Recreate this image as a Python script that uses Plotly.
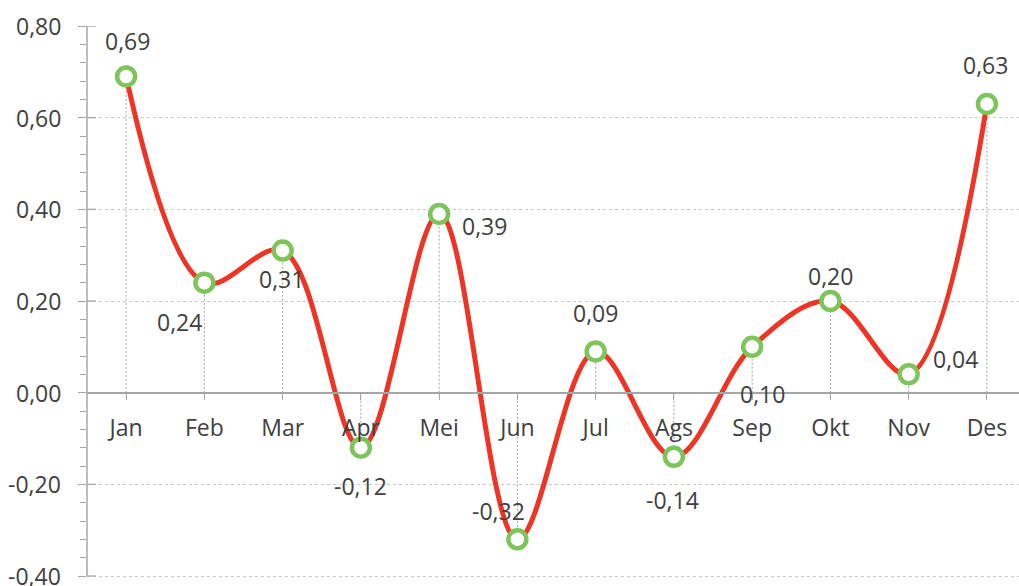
import plotly.graph_objects as go

months = ["Jan", "Feb", "Mar", "Apr", "Mei", "Jun", "Jul", "Ags", "Sep", "Okt", "Nov", "Des"]
values = [0.69, 0.24, 0.31, -0.12, 0.39, -0.32, 0.09, -0.14, 0.10, 0.20, 0.04, 0.63]
y_ticks = [-0.40, -0.20, 0.00, 0.20, 0.40, 0.60, 0.80]
y_tick_text = ["-0,40", "-0,20", "0,00", "0,20", "0,40", "0,60", "0,80"]

# label offsets in pixels (xshift, yshift)
label_shift = [(1, 35), (-25, -39), (-1, -28), (0, -38), (45, -12), (-19, 28),
               (0, 38), (-1, -43), (10, -47), (0, 25), (47, 15), (-1, 39)]

FONT = "Open Sans"
TXT = "#404040"
AX = "#A6A6A6"
FS = 23
xpos = list(range(len(months)))

TOP, BOT = 26, 0
PX_PER_UNIT = 550 / 1.2
y_lo = 0.8 - (586 - TOP - BOT) / PX_PER_UNIT

fig = go.Figure()

# drop lines
dx, dy = [], []
for i, v in zip(xpos, values):
    dx += [i, i, None]
    dy += [0, v, None]
fig.add_trace(go.Scatter(x=dx, y=dy, mode="lines",
                         line=dict(color="#A0A0A0", width=1, dash="2px,2px"),
                         hoverinfo="skip", showlegend=False))

fig.add_trace(go.Scatter(
    x=xpos, y=values, mode="lines+markers",
    line=dict(color="#EE3424", width=5, shape="spline", smoothing=1.0),
    marker=dict(symbol="circle", size=18, color="white",
                line=dict(color="#7DC45A", width=4.5)),
    showlegend=False))

for i, (v, (sx, sy)) in enumerate(zip(values, label_shift)):
    fig.add_annotation(x=i, y=v, xref="x", yref="y", text=f"{v:.2f}".replace(".", ","),
                       showarrow=False, xshift=sx, yshift=sy,
                       font=dict(family=FONT, size=FS, color=TXT))

# y tick labels drawn as annotations (the lowest one sits on the page edge)
for t, lab in zip(y_ticks, y_tick_text):
    fig.add_annotation(x=0, y=t, xref="paper", yref="y", text=lab, showarrow=False,
                       xanchor="right", yanchor="middle", xshift=-24,
                       font=dict(family=FONT, size=FS, color=TXT))

# y axis line (ends at lowest tick)
fig.add_shape(type="line", xref="paper", yref="y", x0=0, x1=0,
              y0=min(y_ticks), y1=max(y_ticks), line=dict(color=AX, width=1.5))
# inner part of major y ticks (cross style)
for t in y_ticks:
    fig.add_shape(type="line", xref="paper", yref="y", xsizemode="pixel", xanchor=0,
                  x0=0, x1=9, y0=t, y1=t, line=dict(color=AX, width=1.3))

fig.update_layout(
    width=1019, height=586,
    margin=dict(l=87, r=0, t=TOP, b=BOT, autoexpand=False),
    paper_bgcolor="white", plot_bgcolor="white",
    font=dict(family=FONT, size=FS, color=TXT),
    xaxis=dict(
        range=[-0.5, 11.41], tickmode="array", tickvals=xpos, ticktext=months,
        anchor="free", position=(0 - y_lo) / (0.8 - y_lo), automargin=False,
        showline=True, linecolor=AX, linewidth=1.5,
        ticks="outside", ticklen=7, tickcolor=AX, tickwidth=1.3,
        showgrid=False, zeroline=False, ticklabelstandoff=8,
        tickfont=dict(family=FONT, size=FS, color=TXT),
    ),
    yaxis=dict(
        range=[y_lo, 0.8], tickmode="array", tickvals=y_ticks, showticklabels=False,
        automargin=False, showline=False,
        ticks="outside", ticklen=8, tickcolor=AX, tickwidth=1.3,
        showgrid=True, gridcolor="#C8C8C8", gridwidth=1, griddash="3px,3px",
        zeroline=False,
        minor=dict(tickmode="array", tickvals=[round(-0.4 + 0.04 * k, 2) for k in range(31)],
                   ticks="outside", ticklen=6, tickcolor=AX, tickwidth=1, showgrid=False),
    ),
)

fig.write_html("out.html", config={"displayModeBar": False},
               post_script="document.body.style.margin='0';document.body.style.overflow='hidden';")
